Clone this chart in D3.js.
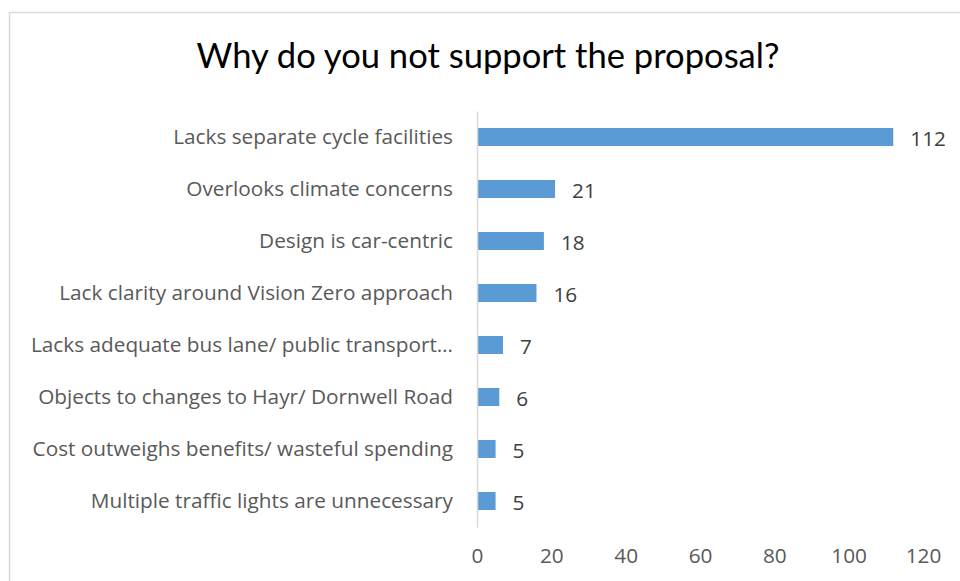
<!DOCTYPE html>
<html>
<head>
<meta charset="utf-8">
<script src="https://cdn.jsdelivr.net/npm/d3@7"></script>
<style>
  html, body { margin: 0; padding: 0; background: #fff; }
  svg { display: block; }
</style>
</head>
<body>
<svg id="chart" width="960" height="581"></svg>
<script>
// Reasons given for not supporting the proposal, with response counts
const categories = [
  "Lacks separate cycle facilities",
  "Overlooks climate concerns",
  "Design is car-centric",
  "Lack clarity around Vision Zero approach",
  "Lacks adequate bus lane/ public transport\u2026",
  "Objects to changes to Hayr/ Dornwell Road",
  "Cost outweighs benefits/ wasteful spending",
  "Multiple traffic lights are unnecessary"
];
const counts = [112, 21, 18, 16, 7, 6, 5, 5];
const tickValues = [0, 20, 40, 60, 80, 100, 120];
const title = "Why do you not support the proposal?";

const svg = d3.select("#chart");
const titleFont = "Lato, 'Open Sans', sans-serif";
const labelFont = "'Open Sans', Lato, sans-serif";

// Size a text element so its rendered width equals the given width
function fitWidth(sel, base, width) {
  sel.attr("font-size", base);
  const w = sel.node().getComputedTextLength();
  return base * width / w;
}

// Chart frame (top and left edges)
svg.append("line")
  .attr("x1", 9).attr("x2", 960).attr("y1", 12.5).attr("y2", 12.5)
  .attr("stroke", "#d9d9d9").attr("stroke-width", 1.5);
svg.append("line")
  .attr("x1", 9.5).attr("x2", 9.5).attr("y1", 12).attr("y2", 581)
  .attr("stroke", "#d9d9d9").attr("stroke-width", 1.5);

const titleText = svg.append("text")
  .attr("x", 488).attr("y", 68)
  .attr("text-anchor", "middle")
  .attr("font-family", titleFont)
  .attr("fill", "#000")
  .text(title);
titleText.attr("font-size", fitWidth(titleText, 33, 583));

const x = d3.scaleLinear().domain([0, 120]).range([477, 923]);
const y = d3.scaleBand().domain(categories).range([111, 527]).paddingInner(0.654).paddingOuter(0.327);

const data = categories.map((c, i) => ({ cat: c, val: counts[i] }));

// Bars
svg.append("g").selectAll("rect")
  .data(data).join("rect")
  .attr("x", x(0) + 1)
  .attr("y", d => y(d.cat))
  .attr("width", d => x(d.val) - x(0) - 1)
  .attr("height", y.bandwidth())
  .attr("fill", "#5b9bd5");

// Category axis (left)
const yAxis = svg.append("g")
  .attr("transform", `translate(${x(0)},0)`)
  .call(d3.axisLeft(y).tickSize(0).tickPadding(24));
yAxis.select(".domain").attr("stroke", "#d9d9d9").attr("stroke-width", 1.5);
const catLabels = yAxis.selectAll("text")
  .attr("font-family", labelFont)
  .attr("fill", "#595959");
const labelSize = fitWidth(d3.select(catLabels.nodes()[0]), 18, 280);
catLabels.attr("font-size", labelSize);

// Value axis (bottom), labels only
const xAxis = svg.append("g")
  .attr("transform", "translate(0,540)")
  .call(d3.axisBottom(x).tickValues(tickValues).tickSize(0).tickPadding(8));
xAxis.select(".domain").remove();
xAxis.selectAll("text")
  .attr("font-family", labelFont)
  .attr("font-size", labelSize)
  .attr("fill", "#595959");

// Value labels
svg.append("g").selectAll("text")
  .data(data).join("text")
  .attr("x", d => x(d.val) + 17)
  .attr("y", d => y(d.cat) + y.bandwidth() / 2 + 2)
  .attr("dy", "0.35em")
  .attr("font-family", labelFont)
  .attr("font-size", labelSize)
  .attr("fill", "#404040")
  .text(d => d.val);
</script>
</body>
</html>
